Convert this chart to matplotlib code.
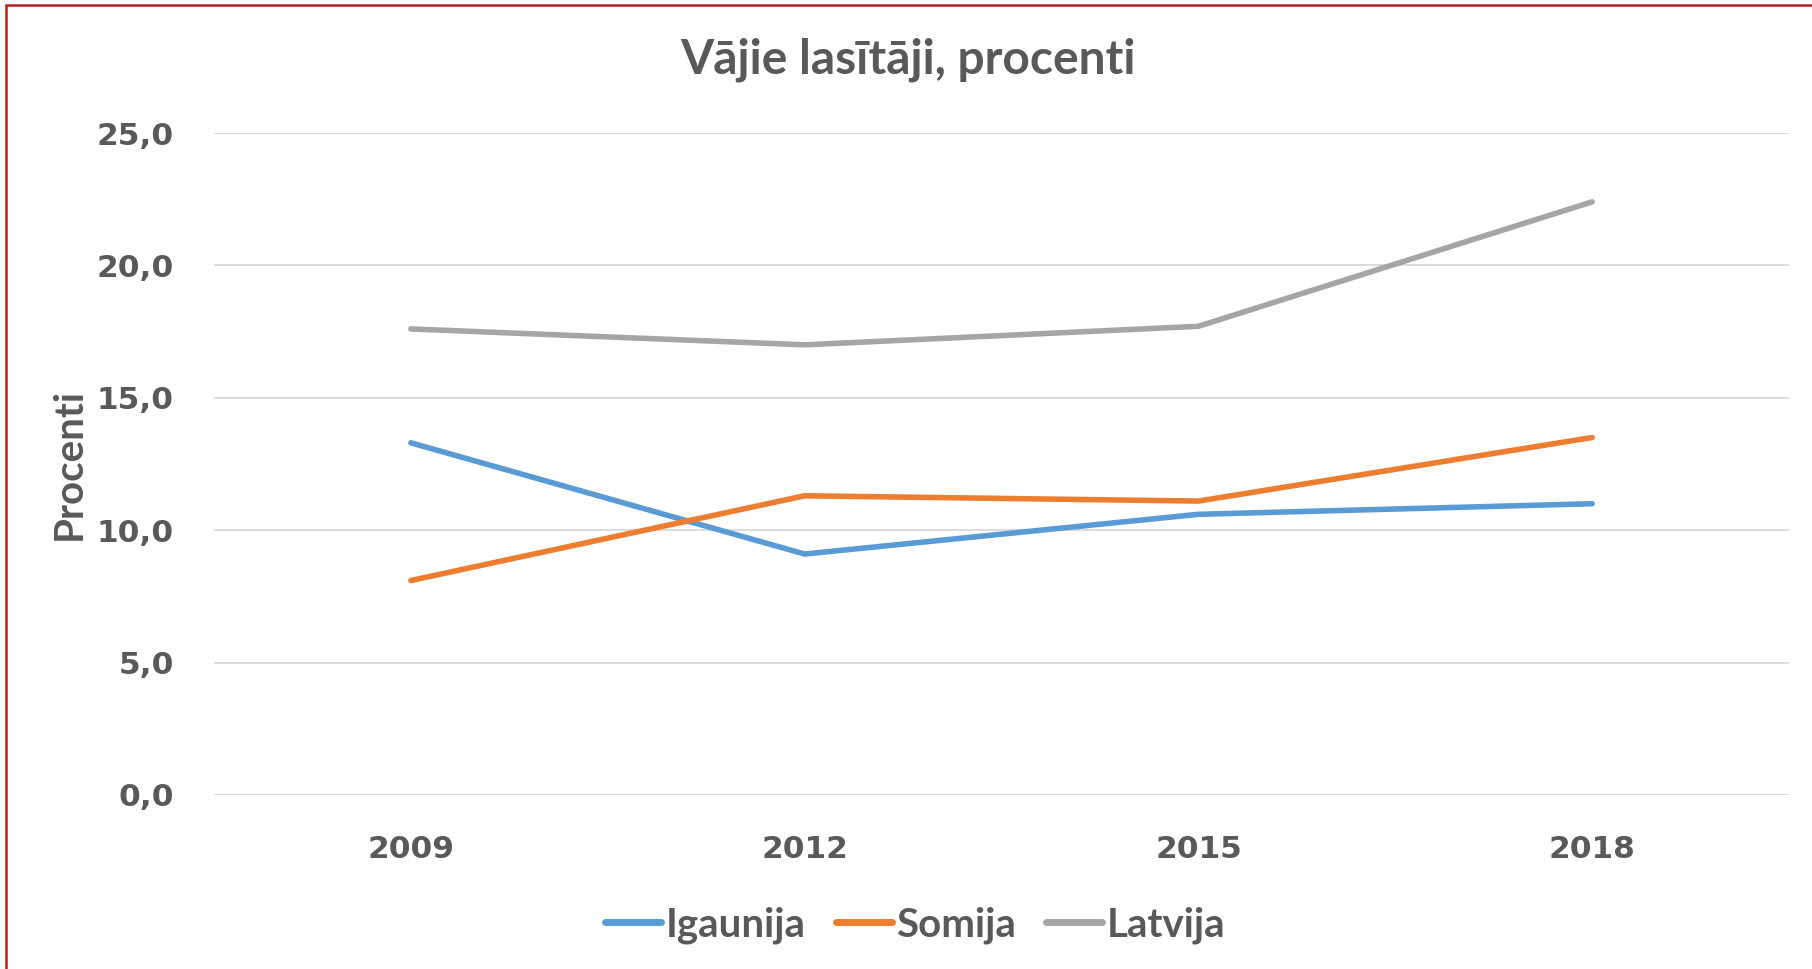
import matplotlib.pyplot as plt
from matplotlib.patches import Rectangle

# Dati
years = ["2009", "2012", "2015", "2018"]
igaunija = [13.3, 9.1, 10.6, 11.0]
somija = [8.1, 11.3, 11.1, 13.5]
latvija = [17.6, 17.0, 17.7, 22.4]

yticks = [0, 5, 10, 15, 20, 25]
ytick_labels = ["0,0", "5,0", "10,0", "15,0", "20,0", "25,0"]

TEXT = "#595959"
W, H = 1812, 969

fig = plt.figure(figsize=(W / 100, H / 100), dpi=100)
ax = fig.add_axes([214 / W, 1 - 795 / H, (1789 - 214) / W, (795 - 133) / H])

x = range(len(years))
ax.plot(x, igaunija, color="#5B9BD5", lw=4.0, label="Igaunija", solid_capstyle="round")
ax.plot(x, somija, color="#ED7D31", lw=4.0, label="Somija", solid_capstyle="round")
ax.plot(x, latvija, color="#A5A5A5", lw=4.0, label="Latvija", solid_capstyle="round")

ax.set_xlim(-0.5, 3.5)
ax.set_ylim(0, 25)
ax.set_xticks(list(x))
ax.set_xticklabels(years)
ax.set_yticks(yticks)
ax.set_yticklabels(ytick_labels)
ax.tick_params(length=0, labelcolor=TEXT, labelsize=22.5)
ax.tick_params(axis="y", pad=29)
ax.tick_params(axis="x", pad=29)
for lab in ax.get_xticklabels() + ax.get_yticklabels():
    lab.set_fontweight("bold")

ax.grid(axis="y", color="#D9D9D9", lw=1.3)
ax.set_axisbelow(True)
for s in ax.spines.values():
    s.set_visible(False)

ax.set_ylabel("Procenti", fontsize=29, color=TEXT, fontweight="bold",
              family="Lato", labelpad=6)

fig.text(908 / W, 1 - 60 / H, "Vājie lasītāji, procenti", ha="center", va="center",
         fontsize=34.5, color=TEXT, fontweight="bold", family="Lato")

leg = fig.legend(loc="center", bbox_to_anchor=(915 / W, 1 - 925 / H), ncol=3, frameon=False,
                 prop={"family": "Lato", "weight": "bold", "size": 29},
                 handlelength=1.4, handletextpad=0.1, columnspacing=0.75)
for t in leg.get_texts():
    t.set_color(TEXT)
for h in leg.get_lines():
    h.set_linewidth(5)

# rāmis
fig.patches.append(Rectangle((6 / W, -0.1), 1.5, 1 - 5 / H + 0.1, transform=fig.transFigure,
                             fill=False, edgecolor="#B22222", lw=1.8))

fig.savefig("out.png", dpi=100)
